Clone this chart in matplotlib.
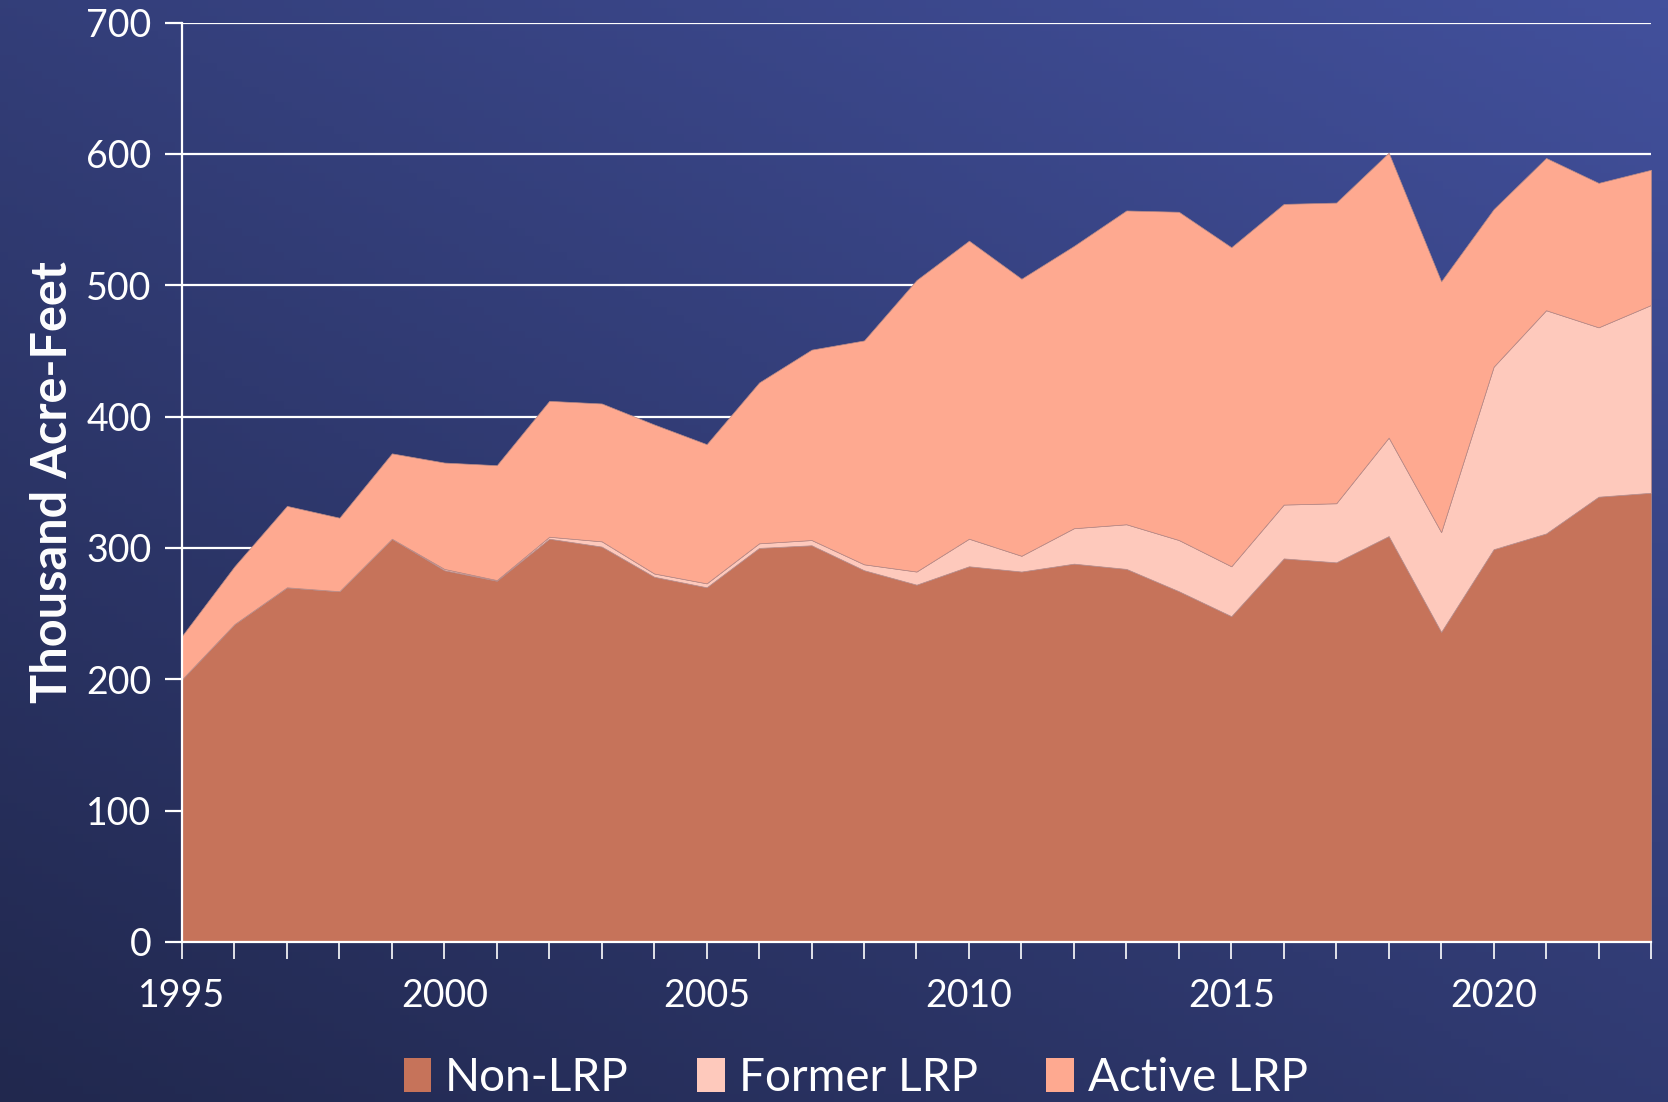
import numpy as np
import matplotlib
matplotlib.use("Agg")
import matplotlib.pyplot as plt
from matplotlib.patches import Patch
from matplotlib.ticker import MultipleLocator

years = list(range(1995, 2024))
non_lrp = [200, 242, 270, 267, 307, 283, 275, 307, 301, 278, 270, 300, 302, 283, 272,
           286, 282, 288, 284, 267, 248, 292, 289, 309, 236, 299, 311, 339, 342]
former_lrp = [0, 0, 0, 0, 0, 1, 0.5, 1.5, 4, 2.5, 3, 3.5, 4, 4.5, 10,
              21, 12, 27, 34, 39, 38, 41, 45, 75, 76, 139, 170, 129, 143]
total = [233, 286, 332, 323, 372, 365, 363, 412, 410, 394, 379, 426, 451, 458, 504,
         534, 505, 530, 557, 556, 529, 562, 563, 601, 503, 558, 597, 578, 588]
active_lrp = [t - n - f for t, n, f in zip(total, non_lrp, former_lrp)]

labels = ["Non-LRP", "Former LRP", "Active LRP"]
colors = ["#C6735A", "#FEC9BC", "#FEA990"]

plt.rcParams['font.family'] = ['Lato', 'DejaVu Sans']

W, H = 1668, 1102
fig = plt.figure(figsize=(W / 100, H / 100), dpi=100)

# gradient background
bg = fig.add_axes([0, 0, 1, 1], zorder=-10)
nx, ny = 200, 140
xx, yy = np.meshgrid(np.linspace(0, 1, nx), np.linspace(1, 0, ny))
t = np.clip(0.45 * xx + 0.55 * yy, 0, 1)[..., None]
c0 = np.array([33, 40, 78]) / 255.0
c1 = np.array([66, 80, 156]) / 255.0
img = c0 * (1 - t) + c1 * t
bg.imshow(img, aspect='auto', extent=[0, 1, 0, 1])
bg.axis('off')

left, right = 182 / W, 1651 / W
bottom, top = 1 - 941.8 / H, 1 - 22.7 / H
ax = fig.add_axes([left, bottom, right - left, top - bottom])
ax.set_facecolor('none')

ax.stackplot(years, non_lrp, former_lrp, active_lrp, colors=colors,
             labels=labels, linewidth=0.5, edgecolor='#b88a86', zorder=3)

ax.set_xlim(1995, 2023)
ax.set_ylim(0, 700)
ax.yaxis.set_major_locator(MultipleLocator(100))
ax.xaxis.set_major_locator(MultipleLocator(5))
ax.xaxis.set_minor_locator(MultipleLocator(1))
ax.grid(axis='y', color='white', linewidth=1.6, zorder=1)
ax.set_axisbelow(True)

for s in ['top', 'right']:
    ax.spines[s].set_visible(False)
for s in ['left', 'bottom']:
    ax.spines[s].set_color('white')
    ax.spines[s].set_linewidth(1.6)
    ax.spines[s].set_zorder(5)

ax.tick_params(axis='y', colors='white', labelsize=27, length=12, width=1.6,
               direction='out', pad=10)
ax.tick_params(axis='x', which='both', colors='white', length=12, width=1.2,
               direction='out')
ax.tick_params(axis='x', which='major', labelsize=27, pad=14)

ax.set_ylabel("Thousand Acre-Feet", color='white', fontsize=35, fontweight='bold',
              labelpad=8)

handles = [Patch(facecolor=c, edgecolor='none') for c in colors]
fig.legend(handles, labels, loc='center', bbox_to_anchor=(0.513, 0.022), ncol=3,
           frameon=False, fontsize=33, labelcolor='white', handlelength=0.6,
           handleheight=0.75, handletextpad=0.3, columnspacing=1.5)

fig.savefig("out.png", dpi=100)
